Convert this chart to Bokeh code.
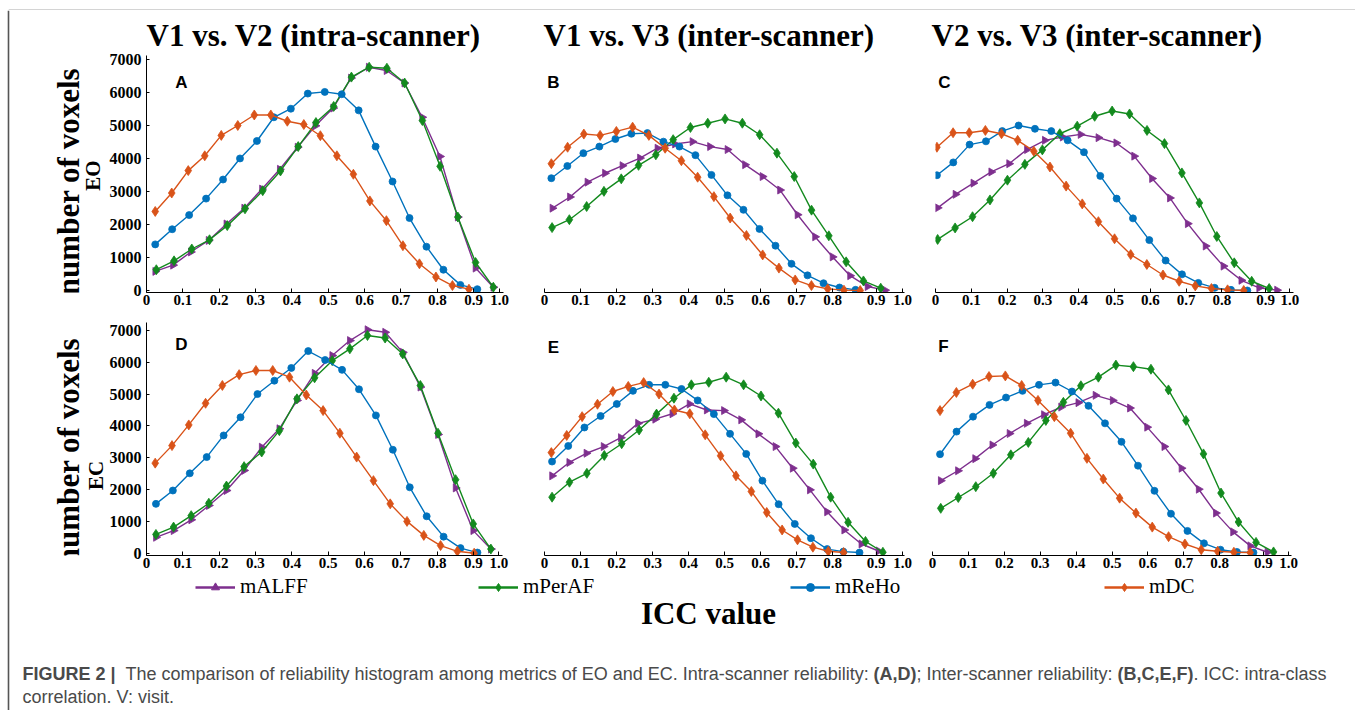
import numpy as np
from bokeh.plotting import figure
from bokeh.layouts import row, column
from bokeh.models import (Range1d, FixedTicker, Label, Legend, LegendItem, CustomJSTickFormatter,
                          Span)
from bokeh.embed import file_html
from bokeh.resources import INLINE

# ---------------- data ----------------
metrics = ["mALFF", "mPerAF", "mReHo", "mDC"]
voxel_ticks = [0, 1000, 2000, 3000, 4000, 5000, 6000, 7000]
icc_labels = ["0", "0.1", "0.2", "0.3", "0.4", "0.5", "0.6", "0.7", "0.8", "0.9", "1.0"]
col_titles = ["V1 vs. V2 (intra-scanner)", "V1 vs. V3 (inter-scanner)", "V2 vs. V3 (inter-scanner)"]
row_conditions = ["EO", "EC"]
panel_letters = ["A", "B", "C", "D", "E", "F"]

# tick-label positions as drawn in each panel (the last labels are squeezed at the axis end)
A_tick_pos = [0, 0.1, 0.2, 0.3, 0.4, 0.5, 0.6, 0.7, 0.8, 0.9, 0.971]
B_tick_pos = [0, 0.1, 0.2, 0.3, 0.4, 0.5, 0.6, 0.7, 0.8, 0.921, 0.995]
C_tick_pos = [0, 0.1, 0.2, 0.3, 0.4, 0.5, 0.6, 0.7, 0.8, 0.922, 0.99]
D_tick_pos = [0, 0.1, 0.2, 0.3, 0.4, 0.5, 0.6, 0.7, 0.8, 0.9, 0.97]
E_tick_pos = [0, 0.1, 0.2, 0.3, 0.4, 0.5, 0.6, 0.7, 0.8, 0.921, 0.995]
F_tick_pos = [0, 0.1, 0.2, 0.3, 0.4, 0.5, 0.6, 0.7, 0.8, 0.922, 0.992]

# first / last bin centre (ICC) of each histogram curve
A_mALFF_x = (0.024, 0.954); A_mPerAF_x = (0.027, 0.954); A_mReHo_x = (0.024, 0.910); A_mDC_x = (0.024, 0.887)
B_mALFF_x = (0.022, 0.946); B_mPerAF_x = (0.021, 0.934); B_mReHo_x = (0.019, 0.864); B_mDC_x = (0.019, 0.877)
C_mALFF_x = (0.006, 0.954); C_mPerAF_x = (0.006, 0.932); C_mReHo_x = (0.004, 0.871); C_mDC_x = (0.004, 0.861)
D_mALFF_x = (0.026, 0.948); D_mPerAF_x = (0.026, 0.948); D_mReHo_x = (0.026, 0.911); D_mDC_x = (0.024, 0.902)
E_mALFF_x = (0.021, 0.928); E_mPerAF_x = (0.021, 0.940); E_mReHo_x = (0.021, 0.875); E_mDC_x = (0.019, 0.831)
F_mALFF_x = (0.023, 0.933); F_mPerAF_x = (0.023, 0.950); F_mReHo_x = (0.021, 0.894); F_mDC_x = (0.021, 0.885)

# number of voxels per bin
A_mALFF = [580, 770, 1170, 1520, 2020, 2500, 3080, 3680, 4350, 5000, 5540, 6450, 6780, 6680, 6300, 5260, 4070, 2230, 680, 100]
A_mPerAF = [630, 900, 1260, 1540, 1970, 2480, 3030, 3630, 4370, 5100, 5590, 6480, 6780, 6750, 6300, 5160, 3770, 2230, 850, 100]
A_mReHo = [1400, 1860, 2290, 2790, 3370, 4010, 4540, 5260, 5520, 5980, 6030, 5960, 5470, 4370, 3310, 2200, 1330, 630, 170, 40]
A_mDC = [2400, 2960, 3640, 4090, 4710, 5010, 5330, 5330, 5140, 5040, 4700, 4090, 3530, 2720, 2120, 1360, 810, 410, 150, 40]

B_mALFF = [2500, 2840, 3290, 3560, 3790, 4020, 4320, 4450, 4520, 4370, 4280, 3820, 3460, 3050, 2300, 1630, 1020, 450, 120, 10]
B_mPerAF = [1910, 2150, 2550, 3010, 3390, 3800, 4120, 4580, 4950, 5080, 5210, 5080, 4730, 4170, 3460, 2440, 1660, 870, 290, 70]
B_mReHo = [3410, 3780, 4170, 4370, 4600, 4760, 4780, 4520, 4370, 4110, 3510, 2890, 2450, 1870, 1360, 810, 460, 220, 90, 20]
B_mDC = [3850, 4350, 4750, 4710, 4830, 4960, 4710, 4320, 3940, 3440, 2850, 2200, 1670, 1080, 680, 320, 150, 50, 10, 0]

C_mALFF = [2510, 2920, 3260, 3600, 3850, 4280, 4560, 4660, 4740, 4640, 4480, 4080, 3400, 2810, 2030, 1350, 740, 310, 80, 10]
C_mPerAF = [1550, 1900, 2240, 2750, 3350, 3830, 4270, 4760, 4990, 5290, 5450, 5360, 4860, 4460, 3570, 2660, 1640, 840, 280, 60]
C_mReHo = [3500, 3890, 4430, 4530, 4840, 5010, 4910, 4840, 4560, 4200, 3480, 2790, 2190, 1530, 910, 490, 230, 80, 20, 0]
C_mDC = [4350, 4790, 4790, 4860, 4760, 4560, 4230, 3750, 3170, 2630, 2090, 1570, 1090, 790, 470, 280, 140, 60, 20, 0]

D_mALFF = [500, 710, 1050, 1500, 1970, 2600, 3330, 3910, 4800, 5650, 6210, 6680, 7020, 6940, 6310, 5220, 3730, 2050, 710, 130]
D_mPerAF = [590, 820, 1180, 1570, 2110, 2720, 3180, 3850, 4850, 5510, 6050, 6420, 6840, 6760, 6260, 5270, 3770, 2310, 920, 130]
D_mReHo = [1550, 1970, 2510, 3020, 3700, 4270, 5000, 5420, 5820, 6350, 6070, 5760, 5150, 4330, 3250, 2070, 1160, 520, 160, 20]
D_mDC = [2830, 3380, 4030, 4710, 5270, 5610, 5740, 5740, 5530, 4970, 4480, 3770, 3020, 2280, 1550, 1000, 560, 240, 60, 0]

E_mALFF = [2430, 2850, 3140, 3350, 3630, 4080, 4210, 4380, 4690, 4500, 4480, 4190, 3750, 3350, 2670, 1990, 1300, 730, 290, 70]
E_mPerAF = [1760, 2230, 2510, 3070, 3440, 3870, 4370, 4870, 5290, 5370, 5530, 5290, 4940, 4400, 3460, 2800, 1760, 970, 370, 30]
E_mReHo = [2880, 3370, 3950, 4310, 4690, 5100, 5290, 5290, 5160, 4800, 4370, 3750, 3120, 2280, 1540, 920, 470, 130, 50, 20]
E_mDC = [3160, 3700, 4290, 4680, 5080, 5240, 5360, 5000, 4500, 4380, 3720, 3060, 2430, 1940, 1280, 730, 420, 190, 60, 20]

F_mALFF = [2280, 2590, 2970, 3400, 3760, 4080, 4350, 4590, 4730, 4960, 4800, 4560, 3960, 3350, 2670, 2010, 1260, 670, 230, 30]
F_mPerAF = [1410, 1750, 2090, 2510, 3090, 3480, 4170, 4740, 5260, 5530, 5910, 5860, 5780, 5130, 4170, 3120, 1890, 980, 340, 40]
F_mReHo = [3110, 3820, 4290, 4660, 4890, 5100, 5290, 5360, 5080, 4630, 4080, 3500, 2750, 1960, 1240, 700, 310, 110, 40, 20]
F_mDC = [4480, 5050, 5310, 5550, 5570, 5270, 4800, 4290, 3770, 2980, 2330, 1730, 1260, 820, 520, 290, 110, 60, 30, 20]

caption_parts = [
    ("FIGURE 2 |", "bold"),
    ("The comparison of reliability histogram among metrics of EO and EC. Intra-scanner reliability:", "normal"),
    ("(A,D)", "bold"),
    ("; Inter-scanner reliability:", "normal"),
    ("(B,C,E,F)", "bold"),
    (". ICC: intra-class", "normal"),
]
caption_line2 = "correlation. V: visit."

# ---------------- styles ----------------
STYLE = {
    "mALFF": dict(color="#7E2F8E", marker="triangle", size=8, angle=-np.pi / 2),
    "mPerAF": dict(color="#138A1E", marker="diamond", size=10, angle=0.0),
    "mReHo": dict(color="#0072BD", marker="circle", size=7, angle=0.0),
    "mDC": dict(color="#D95319", marker="diamond", size=10, angle=0.0),
}
SERIF = "Liberation Serif"
SANS = "Liberation Sans"
FRAME_COLOR = "#555555"

panel_data = {
    "A": ([A_mALFF, A_mPerAF, A_mReHo, A_mDC], [A_mALFF_x, A_mPerAF_x, A_mReHo_x, A_mDC_x], A_tick_pos),
    "B": ([B_mALFF, B_mPerAF, B_mReHo, B_mDC], [B_mALFF_x, B_mPerAF_x, B_mReHo_x, B_mDC_x], B_tick_pos),
    "C": ([C_mALFF, C_mPerAF, C_mReHo, C_mDC], [C_mALFF_x, C_mPerAF_x, C_mReHo_x, C_mDC_x], C_tick_pos),
    "D": ([D_mALFF, D_mPerAF, D_mReHo, D_mDC], [D_mALFF_x, D_mPerAF_x, D_mReHo_x, D_mDC_x], D_tick_pos),
    "E": ([E_mALFF, E_mPerAF, E_mReHo, E_mDC], [E_mALFF_x, E_mPerAF_x, E_mReHo_x, E_mDC_x], E_tick_pos),
    "F": ([F_mALFF, F_mPerAF, F_mReHo, F_mDC], [F_mALFF_x, F_mPerAF_x, F_mReHo_x, F_mDC_x], F_tick_pos),
}


def blank(w, h, mbt=0, mbb=0):
    p = figure(width=w, height=h, x_range=Range1d(0, w), y_range=Range1d(0, h - mbt - mbb),
               output_backend="svg", toolbar_location=None, x_axis_type=None, y_axis_type=None,
               min_border=0, min_border_left=0, min_border_right=0, min_border_top=mbt,
               min_border_bottom=mbb)
    p.grid.visible = False
    p.outline_line_color = None
    p.background_fill_color = "white"
    p.border_fill_color = "white"
    return p


def frame_line(p, loc, dim):
    p.add_layout(Span(location=loc, dimension=dim, line_color=FRAME_COLOR, line_width=1.6))


def panel(letter, w, h, mbl, mbr, mbt, mbb, xend, yr, show_y, letter_xy, title=None, title_offset=0):
    ys, xs, tick_pos = panel_data[letter]
    p = figure(width=w, height=h, x_range=Range1d(0, xend), y_range=Range1d(*yr),
               output_backend="svg", toolbar_location=None,
               min_border_left=mbl, min_border_right=mbr, min_border_top=mbt, min_border_bottom=mbb)
    p.grid.visible = False
    p.outline_line_color = None
    p.border_fill_color = "white"
    if title is not None:
        p.title.text = title
        p.title.align = "left"
        p.title.offset = title_offset
        p.title.standoff = 6
        p.title.text_font = SERIF
        p.title.text_font_style = "bold"
        p.title.text_font_size = "31px"
        p.title.text_color = "black"
    for m, y, (x0, x1) in zip(metrics, ys, xs):
        st = STYLE[m]
        x = np.linspace(x0, x1, len(y))
        p.line(x, y, line_color=st["color"], line_width=1.4)
        p.scatter(x, y, marker=st["marker"], size=st["size"], angle=st["angle"],
                  fill_color=st["color"], line_color=st["color"], line_width=0.8)
    xa = p.xaxis[0]
    xa.ticker = FixedTicker(ticks=tick_pos, minor_ticks=[])
    xa.formatter = CustomJSTickFormatter(args=dict(pos=tick_pos, labs=icc_labels), code="""
        const i = pos.findIndex((q) => Math.abs(q - tick) < 1e-9);
        return i >= 0 ? labs[i] : "";
    """)
    xa.major_tick_in = 4
    xa.major_tick_out = 0
    xa.minor_tick_line_color = None
    xa.axis_line_color = "black"
    xa.major_tick_line_color = "black"
    xa.major_label_standoff = 2
    xa.major_label_text_font = SERIF
    xa.major_label_text_font_style = "bold"
    xa.major_label_text_font_size = "15px"
    xa.major_label_text_color = "black"
    ya = p.yaxis[0]
    if show_y:
        ya.ticker = FixedTicker(ticks=voxel_ticks, minor_ticks=[])
        ya.major_tick_in = 3
        ya.major_tick_out = 0
        ya.minor_tick_line_color = None
        ya.axis_line_color = "black"
        ya.major_tick_line_color = "black"
        ya.major_label_standoff = 5
        ya.major_label_text_font = SERIF
        ya.major_label_text_font_style = "bold"
        ya.major_label_text_font_size = "16px"
        ya.major_label_text_color = "black"
    else:
        ya.visible = False
    p.add_layout(Label(x=letter_xy[0], y=letter_xy[1], x_units="screen", y_units="screen", text=letter,
                       text_font=SANS, text_font_style="bold", text_font_size="17px",
                       text_align="center", text_baseline="middle", text_color="black"))
    return p


# ---------------- figure frame (top and left rules) ----------------
top_pad = blank(8, 10)
top_rule = blank(1347, 10)
frame_line(top_rule, 2, "width")
left_rule = blank(10, 700)
frame_line(left_rule, 8, "height")


# ---------------- row labels ----------------
def row_label(h, mbt, mbb, cond, y_main, cond_xy):
    p = blank(96, h, mbt, mbb)
    p.add_layout(Label(x=58, y=y_main, text="number of voxels", angle=np.pi / 2, text_font=SERIF,
                       text_font_style="bold", text_font_size="31px", text_align="center",
                       text_baseline="middle", text_color="black"))
    p.add_layout(Label(x=cond_xy[0], y=cond_xy[1], text=cond, angle=np.pi / 2, text_font=SERIF,
                       text_font_style="bold", text_font_size="21px", text_align="center",
                       text_baseline="middle", text_color="black"))
    return p


lab1 = row_label(304, 45, 22, row_conditions[0], 111, (82, 117))
lab2 = row_label(261, 8, 20, row_conditions[1], 104, (85, 80))

Y1 = (-61, 7136)
Y2 = (-72, 7248)
pA = panel("A", 419, 304, 39, 22, 45, 22, 0.982, Y1, True, (35, 210), col_titles[0], 0)
pB = panel("B", 390, 304, 19, 11, 45, 22, 1.0, Y1, False, (9, 210), col_titles[1], -1)
pC = panel("C", 440, 304, 20, 62, 45, 22, 1.0, Y1, False, (9, 210), col_titles[2], -4)
pD = panel("D", 419, 261, 39, 23, 8, 20, 0.98, Y2, True, (35, 211))
pE = panel("E", 390, 261, 19, 11, 8, 20, 1.0, Y2, False, (9, 208))
pF = panel("F", 440, 261, 17, 64, 8, 20, 1.0, Y2, False, (11, 209))

# ---------------- footer: legend, x label, caption ----------------
footer = blank(1345, 135)
legend_x = [185, 468, 780, 1094]
for m, lx in zip(metrics, legend_x):
    st = STYLE[m]
    rl = footer.line(x=[np.nan], y=[np.nan], line_color=st["color"], line_width=2.5)
    rs = footer.scatter(x=[np.nan], y=[np.nan], marker=st["marker"], size=st["size"], angle=st["angle"],
                        fill_color=st["color"], line_color=st["color"])
    lg = Legend(items=[LegendItem(label=m, renderers=[rl, rs])], location=(lx, 111),
                orientation="horizontal", border_line_color=None, background_fill_alpha=0,
                padding=0, margin=0, spacing=0, glyph_width=40, glyph_height=20, label_height=20,
                label_standoff=5, label_text_font=SERIF, label_text_font_size="21px",
                label_text_color="black")
    footer.add_layout(lg)

footer.add_layout(Label(x=698, y=97, text="ICC value", text_font=SERIF, text_font_style="bold",
                        text_font_size="31px", text_align="center", text_baseline="middle",
                        text_color="black"))

cap_x = [12, 115, 863, 906, 1107, 1183]
for (txt, style), cx in zip(caption_parts, cap_x):
    footer.add_layout(Label(x=cx, y=37, text=txt, text_font=SANS, text_font_style=style,
                            text_font_size="18px", text_align="left", text_baseline="middle",
                            text_color="#4a4a4a"))
footer.add_layout(Label(x=12, y=14, text=caption_line2, text_font=SANS, text_font_size="18px",
                        text_align="left", text_baseline="middle", text_color="#4a4a4a"))

main = column(row(lab1, pA, pB, pC), row(lab2, pD, pE, pF), footer)
layout = column(row(top_pad, top_rule), row(left_rule, main))

open("out.html", "w").write(file_html(layout, INLINE))
